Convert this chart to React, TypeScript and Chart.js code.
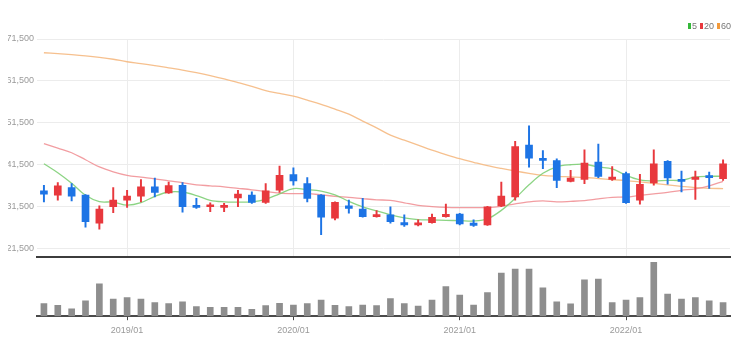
import React, { useEffect, useRef } from 'react';
import { Chart, registerables } from 'chart.js';

Chart.register(...registerables);

const months = [
  '2018/07', '2018/08', '2018/09', '2018/10', '2018/11', '2018/12',
  '2019/01', '2019/02', '2019/03', '2019/04', '2019/05', '2019/06', '2019/07', '2019/08', '2019/09', '2019/10', '2019/11', '2019/12',
  '2020/01', '2020/02', '2020/03', '2020/04', '2020/05', '2020/06', '2020/07', '2020/08', '2020/09', '2020/10', '2020/11', '2020/12',
  '2021/01', '2021/02', '2021/03', '2021/04', '2021/05', '2021/06', '2021/07', '2021/08', '2021/09', '2021/10', '2021/11', '2021/12',
  '2022/01', '2022/02', '2022/03', '2022/04', '2022/05', '2022/06', '2022/07', '2022/08',
];

const openP = [
  35270, 34255, 36070, 34255, 27575, 31490, 33075, 34020, 36215, 34800,
  36615, 31730, 31490, 31350, 33620, 34255, 32530, 35435, 39140, 37015,
  34255, 28755, 31730, 30950, 29135, 29535, 27720, 27170, 27720, 29135,
  29770, 27575, 27175, 31660, 33855, 46220, 43060, 42515, 37560, 38030,
  42115, 38030, 39375, 33075, 37160, 42350, 38000, 38030, 38740, 38195,
];
const highP = [
  36615, 37250, 37015, 34400, 31730, 36070, 35435, 37960, 38340, 37390,
  37250, 33475, 32440, 32300, 35435, 35035, 37015, 41170, 40790, 38430,
  34400, 32670, 33075, 33475, 30550, 31490, 29535, 28355, 29770, 32130,
  29900, 28355, 31600, 37390, 47070, 50775, 44875, 42915, 40150, 45040,
  46455, 41100, 39750, 39210, 45040, 42515, 39990, 39990, 39750, 42680,
];
const lowP = [
  32670, 33075, 32910, 26630, 26160, 30080, 31350, 32670, 33855, 34655,
  30170, 31115, 30310, 30310, 31490, 32295, 32295, 34890, 36615, 32670,
  24815, 28355, 29935, 29000, 28990, 27575, 26775, 26940, 27575, 28990,
  27170, 26775, 27010, 31490, 33075, 40935, 40555, 36070, 37395, 37015,
  38430, 37795, 32295, 32130, 36615, 36850, 35035, 33240, 35835, 37795,
];
const closeP = [
  34490, 36450, 34020, 27955, 30950, 33075, 34020, 36215, 34890, 36545,
  31490, 31350, 31890, 31650, 34490, 32530, 35270, 38975, 37630, 33475,
  28990, 32530, 31115, 29135, 29530, 27955, 27170, 27575, 28990, 29700,
  27410, 27010, 31490, 34020, 45820, 43060, 42515, 37795, 38340, 41880,
  38740, 38580, 32440, 36850, 41735, 38340, 37510, 38580, 38430, 41735,
];

const ma5 = [
  41745, 39590, 37085, 34215, 32710, 32615, 31875, 32470, 33980, 35005,
  35005, 34170, 33020, 32665, 32615, 32665, 33260, 34575, 35815, 35580,
  35220, 34335, 32780, 31470, 30510, 29555, 28815, 28405, 28335, 28240,
  28190, 28095, 28600, 30630, 33500, 36725, 39475, 41025, 41505, 41625,
  40980, 40550, 38995, 37920, 37655, 37800, 37800, 38590, 38755, 38755,
];
const ma20 = [
  46525, 45450, 44375, 42700, 40980, 39830, 38995, 38560, 38160, 37680,
  37250, 36725, 36485, 36245, 35890, 35530, 35100, 34740, 34620, 34620,
  34335, 33980, 33740, 33430, 33140, 33020, 32425, 31830, 31540, 31350,
  31280, 31280, 31300, 31590, 32185, 32665, 32900, 32665, 32780, 32970,
  33380, 33740, 33810, 34215, 34575, 34930, 35410, 35770, 36485, 37560,
];
const ma60 = [
  68225, 68010, 67770, 67485, 67125, 66670, 66075, 65645, 65165, 64620,
  64090, 63470, 62775, 61990, 61105, 60195, 59190, 58525, 57880, 56920,
  55920, 54770, 53575, 51900, 50300, 48560, 47360, 46165, 44970, 43920,
  42940, 42100, 41290, 40620, 40020, 39475, 38995, 38755, 38615, 38470,
  38230, 37970, 37730, 37420, 37085, 36725, 36370, 36055, 35890, 35820,
];
const volume = [
  615, 535, 365, 750, 1585, 835, 915, 835, 665, 615,
  700, 465, 435, 435, 435, 335, 515, 635, 550, 615,
  785, 535, 465, 550, 515, 865, 615, 500, 785, 1450,
  1035, 550, 1150, 2115, 2300, 2300, 1385, 700, 600, 1785,
  1815, 665, 785, 915, 2635, 1085, 835, 915, 750, 665,
];

const priceTicks = [21500, 31500, 41500, 51500, 61500, 71500];
const legendItems = [
  { label: '5', color: '#35b83a' },
  { label: '20', color: '#e8383d' },
  { label: '60', color: '#f39a3a' },
];

const FONT = "'Liberation Sans Narrow', 'Liberation Sans', sans-serif";
const UP = '#e8383d';
const DOWN = '#1d74e5';
const AXIS_W = 37;
const isYear = (i: number) => !!months[i] && months[i].endsWith('/01');

export default function App() {
  const topRef = useRef<HTMLCanvasElement | null>(null);
  const botRef = useRef<HTMLCanvasElement | null>(null);

  useEffect(() => {
    const colors = closeP.map((c, i) => (c >= openP[i] ? UP : DOWN));
    const top = new Chart(topRef.current as HTMLCanvasElement, {
      type: 'bar',
      data: {
        labels: months,
        datasets: [
          { type: 'line', label: '5', data: ma5, borderColor: 'rgba(120,205,110,0.85)', backgroundColor: '#35b83a', borderWidth: 1.3, pointRadius: 0, tension: 0.35, order: 3 } as any,
          { type: 'line', label: '20', data: ma20, borderColor: 'rgba(240,140,145,0.85)', backgroundColor: '#e8383d', borderWidth: 1.3, pointRadius: 0, tension: 0.35, order: 3 } as any,
          { type: 'line', label: '60', data: ma60, borderColor: 'rgba(245,185,130,0.9)', backgroundColor: '#f39a3a', borderWidth: 1.3, pointRadius: 0, tension: 0.35, order: 3 } as any,
          { type: 'bar', label: 'body', data: months.map((_, i) => [openP[i], closeP[i]]), backgroundColor: colors, barThickness: 7, grouped: false, minBarLength: 2, order: 0 } as any,
          { type: 'bar', label: 'wick', data: months.map((_, i) => [lowP[i], highP[i]]), backgroundColor: colors, barThickness: 1.3, grouped: false, order: 1 } as any,
        ],
      },
      options: {
        animation: false,
        responsive: true,
        maintainAspectRatio: false,
        events: [],
        layout: { padding: { top: 31, right: 6, bottom: 1, left: 0 } },
        plugins: { legend: { display: false }, tooltip: { enabled: false } },
        scales: {
          x: {
            offset: true,
            grid: {
              offset: false,
              drawTicks: false,
              color: (ctx: any) => (isYear(ctx.index) ? '#ececec' : 'rgba(0,0,0,0)'),
            },
            border: { display: true, color: '#3c3c3c', width: 2 },
            ticks: { display: false, autoSkip: false },
          },
          y: {
            min: 19600,
            max: 71500,
            afterBuildTicks: (s: any) => { s.ticks = priceTicks.map((v) => ({ value: v })); },
            afterFit: (s: any) => { s.width = AXIS_W; },
            grid: { color: '#ececec', drawTicks: false },
            border: { display: false },
            ticks: {
              padding: 3,
              color: '#9a9a9a',
              font: { family: FONT, size: 9 },
              callback: (v: any) => Number(v).toLocaleString('en-US'),
            },
          },
        },
      } as any,
    });

    const bot = new Chart(botRef.current as HTMLCanvasElement, {
      type: 'bar',
      data: {
        labels: months,
        datasets: [{ label: 'volume', data: volume, backgroundColor: '#8e8e8e', barThickness: 6 }],
      },
      options: {
        animation: false,
        responsive: true,
        maintainAspectRatio: false,
        events: [],
        layout: { padding: { top: 3, right: 6, bottom: 5, left: 0 } },
        plugins: { legend: { display: false }, tooltip: { enabled: false } },
        scales: {
          x: {
            offset: true,
            grid: {
              offset: false,
              drawOnChartArea: false,
              drawTicks: true,
              tickLength: 4,
              color: (ctx: any) => (isYear(ctx.index) ? '#444' : 'rgba(0,0,0,0)'),
            },
            border: { display: true, color: '#4a4a4a', width: 2 },
            ticks: {
              autoSkip: false,
              maxRotation: 0,
              padding: 5,
              color: '#9a9a9a',
              font: { family: FONT, size: 9 },
              callback: (_v: any, i: number) => (isYear(i) ? months[i] : ''),
            },
          },
          y: {
            min: 0,
            max: 2750,
            afterFit: (s: any) => { s.width = AXIS_W; },
            ticks: { display: false },
            grid: { display: false },
            border: { display: false },
          },
        },
      } as any,
    });

    return () => {
      top.destroy();
      bot.destroy();
    };
  }, []);

  return (
    <div style={{ position: 'relative', width: 736, height: 338, marginLeft: -8, fontFamily: FONT }}>
      <div style={{ position: 'relative', width: 736, height: 257 }}>
        <canvas ref={topRef} />
      </div>
      <div style={{ position: 'relative', width: 736, height: 89, marginTop: -8 }}>
        <canvas ref={botRef} />
      </div>
      <div style={{ position: 'absolute', left: 688, top: 13, display: 'flex', alignItems: 'center', fontSize: 9, color: '#777', lineHeight: '10px' }}>
        {legendItems.map((it) => (
          <span key={it.label} style={{ display: 'inline-flex', alignItems: 'center', marginRight: 3 }}>
            <span style={{ display: 'inline-block', width: 3, height: 6, background: it.color, marginRight: 1 }} />
            <span>{it.label}</span>
          </span>
        ))}
      </div>
    </div>
  );
}
